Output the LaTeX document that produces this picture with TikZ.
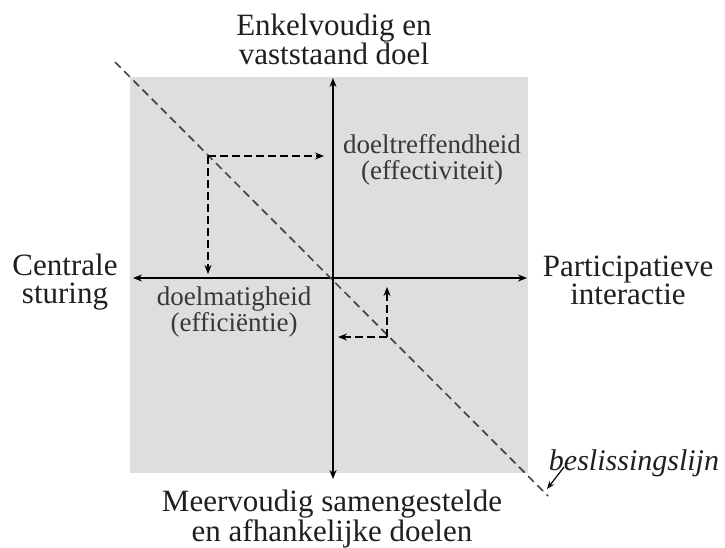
\documentclass[tikz,border=0pt]{standalone}
\usepackage{fontspec}
\setmainfont{Liberation Serif}
\usetikzlibrary{arrows.meta}
\definecolor{panel}{RGB}{222,222,222}
\definecolor{txt}{RGB}{30,30,35}
\definecolor{intxt}{RGB}{55,55,60}
\definecolor{dashgray}{RGB}{70,70,70}
\begin{document}
\begin{tikzpicture}[x=1pt,y=-1pt,
  tip/.tip={Stealth[length=9pt,width=7pt]},
  axis/.style={line width=1.9pt,black,tip-tip},
  dasharrow/.style={line width=1.8pt,black,dash pattern=on 8pt off 4pt,-tip},
  diag/.style={line width=1.7pt,dashgray,dash pattern=on 8pt off 5pt},
  head/.style={align=center,text=txt,font=\fontsize{31}{28}\selectfont,inner sep=0pt,anchor=north},
  inlabel/.style={align=center,text=intxt,font=\fontsize{27}{26}\selectfont,inner sep=0pt,anchor=north}]
\useasboundingbox (0,0) rectangle (725,547);
\fill[panel] (130,77) rectangle (528,473);
% axes
\coordinate (vt) at (333,78);
\coordinate (vb) at (333,479);
\coordinate (hl) at (133,278);
\coordinate (hr) at (527,278);
\draw[axis] (vb) -- (vt);
\draw[axis] (hl) -- (hr);
% decision line
\coordinate (d1) at (115,62);
\coordinate (d2) at (548,496);
\draw[diag] (d1) -- (d2);
% dashed arrows
\coordinate (c1) at (208,156);
\coordinate (c1r) at (324,156);
\coordinate (c1d) at (208,274);
\draw[dasharrow] (c1) -- (c1r);
\draw[dasharrow] (c1) -- (c1d);
\coordinate (c2) at (387,337);
\coordinate (c2u) at (387,287);
\coordinate (c2l) at (338,337);
\draw[dasharrow] (c2) -- (c2u);
\draw[dasharrow] (c2) -- (c2l);
% labels
\node[head] (top) at (334,14) {Enkelvoudig en\\vaststaand doel};
\node[head] (bot) at (332,490) {Meervoudig samengestelde\\en afhankelijke doelen};
\node[head] (lft) at (65,254) {Centrale\\sturing};
\node[head] (rgt) at (628,256) {Participatieve\\interactie};
\node[inlabel] (eff) at (432,134) {doeltreffendheid\\(effectiviteit)};
\node[inlabel] (effi) at (234,287) {doelmatigheid\\(efficiëntie)};
\node[text=txt,font=\fontsize{30}{30}\selectfont\itshape,inner sep=0pt,anchor=north] (bl) at (634,449) {beslissingslijn};
\coordinate (blt) at (547,489);
\draw[line width=1.2pt,-{Stealth[length=8pt,width=6pt]}] (564,467) -- (blt);
\end{tikzpicture}
\end{document}
